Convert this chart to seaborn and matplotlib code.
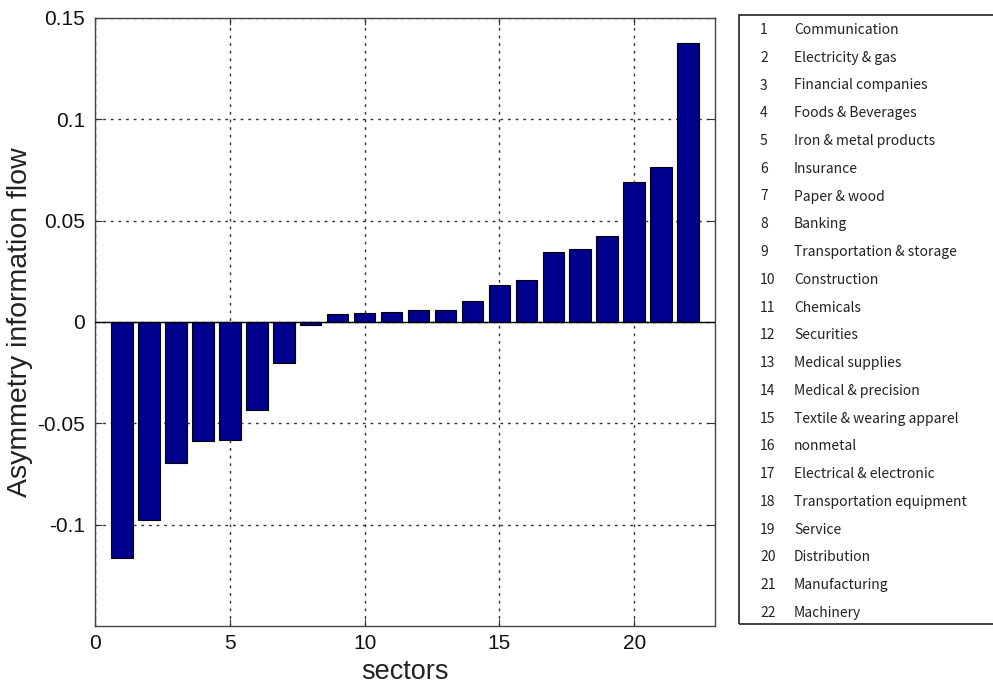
import matplotlib
matplotlib.use("Agg")
import matplotlib.pyplot as plt
import seaborn as sns
import pandas as pd
from matplotlib.patches import Rectangle

# Sector index, name and asymmetry of information flow
sector_ids = list(range(1, 23))
sector_names = [
    "Communication", "Electricity & gas", "Financial companies",
    "Foods & Beverages", "Iron & metal products", "Insurance",
    "Paper & wood", "Banking", "Transportation & storage", "Construction",
    "Chemicals", "Securities", "Medical supplies", "Medical & precision",
    "Textile & wearing apparel", "nonmetal", "Electrical & electronic",
    "Transportation equipment", "Service", "Distribution",
    "Manufacturing", "Machinery",
]
asymmetry = [
    -0.1163, -0.0978, -0.0696, -0.0586, -0.0580, -0.0436, -0.0201, -0.0015,
    0.0038, 0.0045, 0.0048, 0.0061, 0.0061, 0.0104, 0.0182, 0.0205,
    0.0343, 0.0361, 0.0422, 0.0693, 0.0764, 0.1376,
]
x_ticks = [0, 5, 10, 15, 20]
y_ticks = [-0.1, -0.05, 0, 0.05, 0.1, 0.15]
y_tick_labels = ["-0.1", "-0.05", "0", "0.05", "0.1", "0.15"]

df = pd.DataFrame({"sector": sector_ids, "flow": asymmetry})

sns.set_theme(style="white")
plt.rcParams["font.family"] = ["Liberation Sans", "DejaVu Sans"]

fig = plt.figure(figsize=(9.93, 6.86), dpi=100)
ax = fig.add_axes([0.0957, 0.0875, 0.6244, 0.8863])

sns.barplot(data=df, x="sector", y="flow", native_scale=True, width=0.8,
            color="#00008F", saturation=1, edgecolor="black", linewidth=0.8,
            ax=ax, zorder=3)

ax.set_xlim(0, 23)
ax.set_ylim(-0.15, 0.15)
ax.set_xticks(x_ticks)
ax.set_xticklabels([str(t) for t in x_ticks], fontsize=15, color="#111111")
ax.set_yticks(y_ticks)
ax.set_yticklabels(y_tick_labels, fontsize=15, color="#111111")
ax.axhline(0, color="black", linewidth=1.0, zorder=4)

ax.grid(True, linestyle=(0, (2, 3.5)), color="#333333", linewidth=1.0,
        zorder=0)
ax.tick_params(direction="in", length=5, width=0.8, color="#333333",
               top=True, right=True, bottom=True, left=True)
ax.tick_params(axis="x", pad=6)
ax.tick_params(axis="y", pad=7)
for s in ax.spines.values():
    s.set_visible(True)
    s.set_color("#444444")
    s.set_linewidth(1.0)

ax.set_xlabel("sectors", fontsize=19.5, color="#222222", labelpad=4)
ax.set_ylabel("Asymmetry information flow", fontsize=20.5, color="#222222",
              labelpad=3)

# Sector key on the right
fig.patches.append(Rectangle((739 / 993, 1 - 624 / 686), 260 / 993,
                             (624 - 15) / 686, transform=fig.transFigure,
                             fill=False, edgecolor="#333333", linewidth=1.3))
key_font = ["Noto Sans CJK KR", "DejaVu Sans"]
for i, (n, name) in enumerate(zip(sector_ids, sector_names)):
    y = 1 - (30 + i * 27.75) / 686
    fig.text(760 / 993, y, str(n), fontsize=10, family=key_font,
             ha="left", va="center", color="#222222")
    fig.text(794 / 993, y, name, fontsize=10, family=key_font,
             ha="left", va="center", color="#222222")

fig.savefig("out.png", dpi=100)
